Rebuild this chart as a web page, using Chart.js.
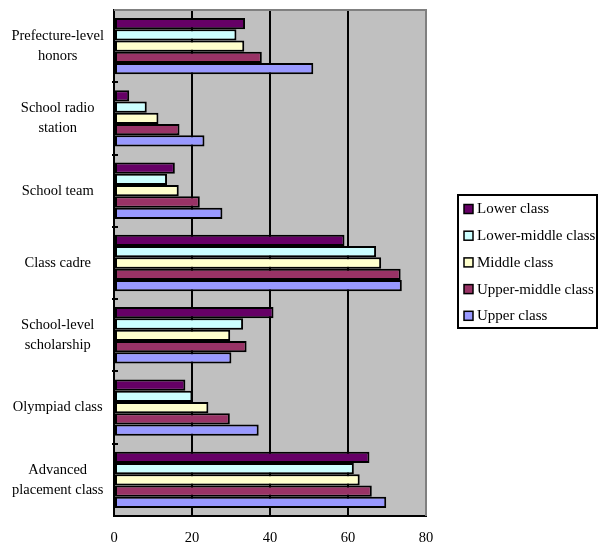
<!DOCTYPE html>
<html>
<head>
<meta charset="utf-8">
<script src="https://cdn.jsdelivr.net/npm/chart.js@4/dist/chart.umd.min.js"></script>
<style>
  html, body { margin: 0; padding: 0; background: #fff; }
  #wrap { width: 599px; height: 544px; }
</style>
</head>
<body>
<div id="wrap"><canvas id="c" width="599" height="544"></canvas></div>
<script>
// Activity categories (multi-line labels as drawn on the axis)
const categories = [
  ['Prefecture-level', 'honors'],
  ['School radio', 'station'],
  ['School team'],
  ['Class cadre'],
  ['School-level', 'scholarship'],
  ['Olympiad class'],
  ['Advanced', 'placement class']
];

const seriesNames = ['Lower class', 'Lower-middle class', 'Middle class', 'Upper-middle class', 'Upper class'];
const seriesColors = ['#660066', '#CCFFFF', '#FFFFCC', '#993366', '#9999FF'];

// Participation (%) by family class
const lowerClass       = [33.6,  3.9, 15.6, 59.1, 40.9, 18.3, 65.5];
const lowerMiddleClass = [31.4,  8.4, 13.6, 67.2, 33.1, 20.1, 61.5];
const middleClass      = [33.4, 11.4, 16.6, 68.5, 29.8, 24.2, 63.0];
const upperMiddleClass = [37.9, 16.8, 22.0, 73.5, 34.0, 29.7, 66.1];
const upperClass       = [51.1, 23.2, 27.8, 73.8, 30.1, 37.1, 69.8];

const xTicks = [0, 20, 40, 60, 80];

const seriesValues = [lowerClass, lowerMiddleClass, middleClass, upperMiddleClass, upperClass];

const FONT = "'Liberation Serif', 'Times New Roman', serif";

// Grey plot background with a grey frame on top and right, plus small category ticks
const plotFrame = {
  id: 'plotFrame',
  beforeDraw(chart) {
    const { ctx, chartArea: a } = chart;
    ctx.save();
    ctx.fillStyle = '#C0C0C0';
    ctx.fillRect(a.left, a.top, a.right - a.left, a.bottom - a.top);
    ctx.restore();
  },
  afterDatasetsDraw(chart) {
    const { ctx, chartArea: a, scales } = chart;
    const y = scales.y;
    ctx.save();
    ctx.strokeStyle = '#808080';
    ctx.lineWidth = 2;
    ctx.beginPath();
    ctx.moveTo(a.left, a.top);
    ctx.lineTo(a.right, a.top);
    ctx.lineTo(a.right, a.bottom);
    ctx.stroke();
    // category separator ticks crossing the value axis
    ctx.strokeStyle = '#000';
    ctx.lineWidth = 2;
    const n = chart.data.labels.length;
    for (let i = 1; i < n; i++) {
      const p = (y.getPixelForValue(i - 1) + y.getPixelForValue(i)) / 2;
      ctx.beginPath();
      ctx.moveTo(a.left - 2, Math.round(p));
      ctx.lineTo(a.left + 4, Math.round(p));
      ctx.stroke();
    }
    ctx.restore();
  }
};

// Boxed legend to the right of the plot
const boxLegend = {
  id: 'boxLegend',
  afterDraw(chart) {
    const { ctx } = chart;
    const left = 458, top = 195, width = 139, height = 133;
    ctx.save();
    ctx.fillStyle = '#fff';
    ctx.fillRect(left, top, width, height);
    ctx.strokeStyle = '#000';
    ctx.lineWidth = 2;
    ctx.strokeRect(left, top, width, height);
    ctx.font = '15px ' + FONT;
    ctx.textBaseline = 'middle';
    ctx.textAlign = 'left';
    chart.data.datasets.forEach((ds, i) => {
      const cy = 209 + i * 26.7;
      ctx.fillStyle = ds.backgroundColor;
      ctx.fillRect(464, cy - 4.5, 9, 9);
      ctx.lineWidth = 1.5;
      ctx.strokeStyle = '#000';
      ctx.strokeRect(464, cy - 4.5, 9, 9);
      ctx.fillStyle = '#000';
      ctx.fillText(ds.label, 477, cy + 0.5);
    });
    ctx.restore();
  }
};

new Chart(document.getElementById('c'), {
  type: 'bar',
  data: {
    labels: categories,
    datasets: seriesNames.map((name, i) => ({
      label: name,
      data: seriesValues[i],
      backgroundColor: seriesColors[i],
      borderColor: '#000',
      borderWidth: 2,
      borderSkipped: false,
      categoryPercentage: 0.78,
      barPercentage: 1.0
    }))
  },
  options: {
    indexAxis: 'y',
    responsive: false,
    animation: false,
    devicePixelRatio: 1,
    layout: { autoPadding: false, padding: { left: 0, right: 173, top: 10, bottom: 0 } },
    plugins: {
      legend: { display: false },
      tooltip: { enabled: false }
    },
    scales: {
      x: {
        min: 0,
        max: 80,
        afterBuildTicks(scale) { scale.ticks = xTicks.map(v => ({ value: v })); },
        afterFit(scale) {
          scale.height = 28;
          scale.paddingLeft = 0;
          scale.paddingRight = 0;
        },
        grid: {
          color: (c) => (c.tick && c.tick.value === 80 ? 'rgba(0,0,0,0)' : '#000'),
          lineWidth: 2,
          drawTicks: false
        },
        border: { display: true, color: '#000', width: 2 },
        ticks: {
          padding: 13,
          color: '#000',
          font: { family: FONT, size: 14.5 },
          maxRotation: 0
        }
      },
      y: {
        afterFit(scale) {
          scale.width = 114;
          scale.paddingTop = 0;
          scale.paddingBottom = 0;
        },
        grid: { display: false, drawTicks: false },
        border: { display: true, color: '#000', width: 2 },
        ticks: {
          color: '#000',
          crossAlign: 'center',
          padding: 10,
          font: { family: FONT, size: 14.5, lineHeight: 1.4 }
        }
      }
    }
  },
  plugins: [plotFrame, boxLegend]
});
</script>
</body>
</html>
